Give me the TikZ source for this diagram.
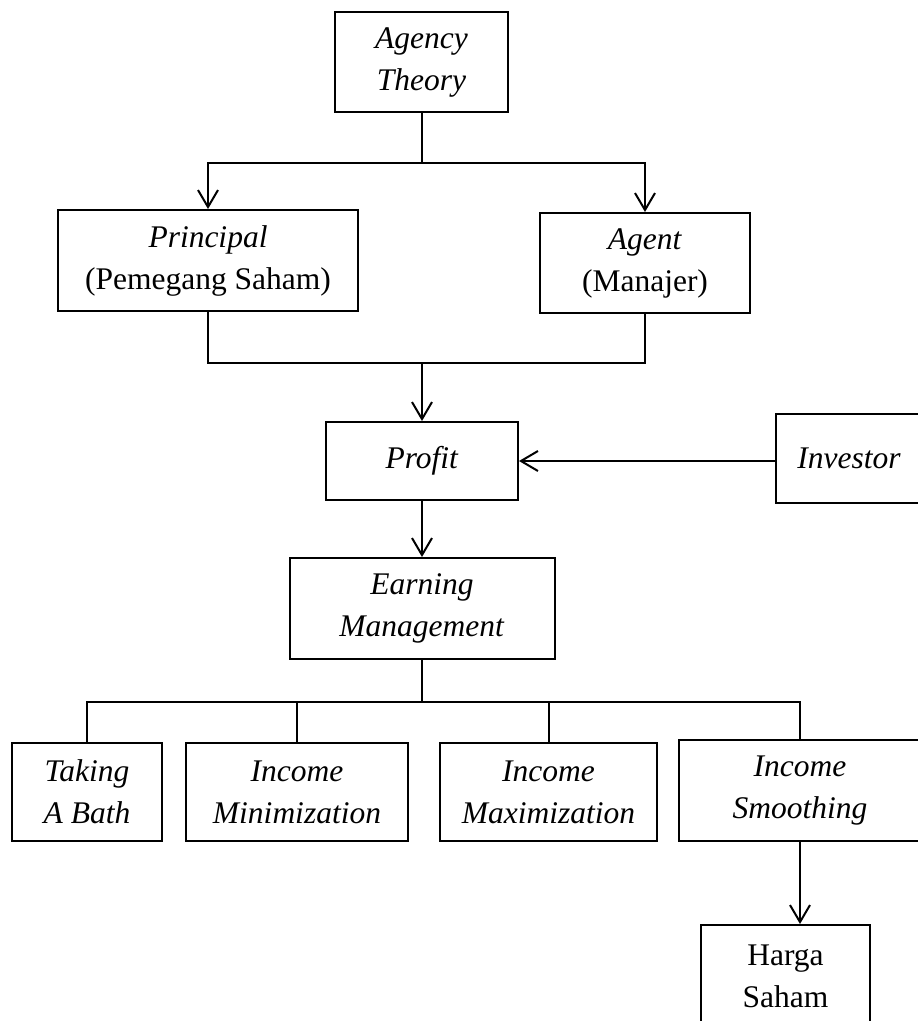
\documentclass[tikz,border=0pt]{standalone}
\usepackage{fontspec}
\setmainfont{Liberation Serif}
\usetikzlibrary{arrows.meta}
\begin{document}
\begin{tikzpicture}[x=1pt,y=-1pt,
  box/.style={draw, line width=2pt, inner sep=0pt, align=center, font=\fontsize{31.5}{42}\selectfont},
  conn/.style={line width=2pt},
  arr/.style={conn, -{Straight Barb[length=17pt,width=20pt,line width=2pt]}}]
\useasboundingbox (0,0) rectangle (918,1021);
\clip (0,0) rectangle (918,1021);
\fill[white] (0,0) rectangle (918,1021);
\node[box, minimum width=173pt, minimum height=100pt] (AT) at (421.5,62) {\textit{Agency}\\\textit{Theory}};
\node[box, minimum width=300pt, minimum height=101pt] (P) at (208,260.5) {\textit{Principal}\\(Pemegang Saham)};
\node[box, minimum width=210pt, minimum height=100pt] (A) at (645,263) {\textit{Agent}\\(Manajer)};
\node[box, minimum width=192pt, minimum height=78pt] (PR) at (422,461) {\textit{Profit}};
\node[box, minimum width=146pt, minimum height=89pt] (INV) at (849,458.5) {\textit{Investor}};
\node[box, minimum width=265pt, minimum height=101pt] (EM) at (422,608.5) {\textit{Earning}\\\textit{Management}};
\node[box, minimum width=150pt, minimum height=98pt] (TB) at (87,792) {\textit{Taking}\\\textit{A Bath}};
\node[box, minimum width=222pt, minimum height=98pt] (IMin) at (297,792) {\textit{Income}\\\textit{Minimization}};
\node[box, minimum width=217pt, minimum height=98pt] (IMax) at (548.5,792) {\textit{Income}\\\textit{Maximization}};
\node[box, minimum width=242pt, minimum height=101pt] (IS) at (800,790.5) {\textit{Income}\\\textit{Smoothing}};
\node[box, minimum width=169pt, minimum height=102pt] (HS) at (785.5,976) {Harga\\Saham};
\coordinate (j1) at (421.5,163);
\draw[conn] (AT.south) -- (j1);
\draw[arr] (j1) -| (P.north);
\draw[arr] (j1) -| (A.north);
\coordinate (j2) at (422,363);
\draw[conn] (P.south) |- (j2);
\draw[conn] (A.south) |- (j2);
\draw[arr] (j2) -- (PR.north);
\draw[arr] (INV.west |- PR.east) -- (PR.east);
\draw[arr] (PR.south) -- (EM.north);
\coordinate (j3) at (422,702);
\draw[conn] (EM.south) -- (j3);
\draw[conn] (j3) -| (TB.north);
\draw[conn] (j3) -| (IMin.north);
\draw[conn] (j3) -| (IMax.north);
\draw[conn] (j3) -| (IS.north);
\draw[arr] (IS.south) -- (IS.south |- HS.north);
\end{tikzpicture}
\end{document}
